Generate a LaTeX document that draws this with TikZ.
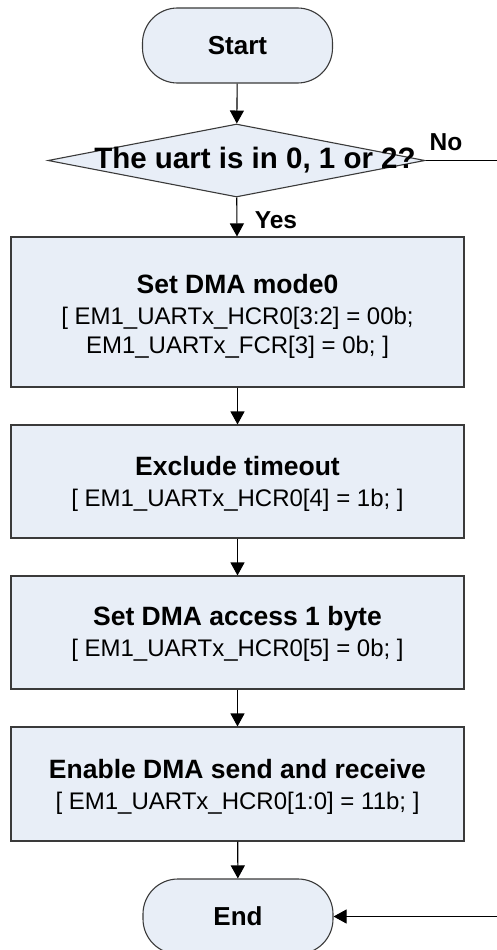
\documentclass[tikz,border=0pt]{standalone}
\usepackage{fontspec}
\setmainfont{Liberation Sans}
\usetikzlibrary{shapes.geometric,arrows.meta}

\definecolor{boxfill}{HTML}{E8EEF7}
\definecolor{boxline}{HTML}{3A3A3A}

\tikzset{
  arr/.style={draw=black, line width=1.1pt, -{Triangle[length=13pt,width=14pt]}},
  terminal/.style={draw=boxline, fill=boxfill, line width=1.1pt, rounded corners=35pt,
    minimum width=190pt, minimum height=75pt, inner sep=0pt,
    font=\bfseries\fontsize{26}{30}\selectfont},
  process/.style={draw=boxline, fill=boxfill, line width=1.1pt,
    minimum width=453pt, inner sep=0pt},
  steptext/.style={anchor=north, inner sep=0pt, align=center,
    font=\fontsize{24}{29}\selectfont},
  decision/.style={draw=boxline, fill=boxfill, line width=1.1pt, diamond,
    minimum width=377pt, minimum height=73pt, inner sep=0pt},
  lbl/.style={font=\bfseries\fontsize{24.5}{28}\selectfont, inner sep=0pt}
}
\newcommand{\ttl}[1]{{\bfseries\fontsize{26.5}{29}\selectfont #1}}

\begin{document}
\begin{tikzpicture}[x=1pt, y=-1pt]
\useasboundingbox (0,0) rectangle (496,950);

% terminals and decision
\node[terminal] (start) at (237.5,45.5) {Start};
\node[decision] (dec) at (236.5,160.5) {};
\node[font=\bfseries\fontsize{29.5}{32}\selectfont, inner sep=0pt] (dectext) at (255,160.5) {The uart is in 0, 1 or 2?};
\node[terminal] (end) at (238,916.5) {End};

% process boxes
\node[process, minimum height=150pt] (s1) at (237.5,312) {};
\node[process, minimum height=113pt] (s2) at (237.5,481.5) {};
\node[process, minimum height=113pt] (s3) at (237.5,632.5) {};
\node[process, minimum height=114pt] (s4) at (237.5,784) {};

% step texts: bold title over the register settings
\node[steptext] (t1) at (237.5,274.5)
  {\ttl{Set DMA mode0}\\[1.5pt] {[} EM1\_UARTx\_HCR0[3:2] = 00b;\\ EM1\_UARTx\_FCR[3] = 0b; ]};
\node[steptext] (t2) at (237.5,456.5)
  {\ttl{Exclude timeout}\\[1.5pt] {[} EM1\_UARTx\_HCR0[4] = 1b; ]};
\node[steptext] (t3) at (237.5,606.5)
  {\ttl{Set DMA access 1 byte}\\[1.5pt] {[} EM1\_UARTx\_HCR0[5] = 0b; ]};
\node[steptext] (t4) at (237.5,759.5)
  {\ttl{Enable DMA send and receive}\\[1.5pt] {[} EM1\_UARTx\_HCR0[1:0] = 11b; ]};

% branch labels
\node[lbl] (yes) at (276,220) {Yes};
\node[lbl] (no) at (446,142) {No};

% connectors
\coordinate (bypass) at (515,160.5);
\draw[arr] (start) -- (dec);
\draw[arr] (dec) -- (s1);
\draw[arr] (s1) -- (s2);
\draw[arr] (s2) -- (s3);
\draw[arr] (s3) -- (s4);
\draw[arr] (s4) -- (end);
\draw[arr] (dec.east) -- (bypass) |- (end.east);
\end{tikzpicture}
\end{document}
